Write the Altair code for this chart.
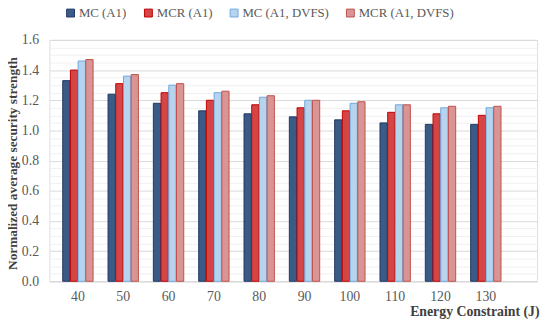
import altair as alt
import pandas as pd

categories = ["40", "50", "60", "70", "80", "90", "100", "110", "120", "130"]
series = ["MC (A1)", "MCR (A1)", "MC (A1, DVFS)", "MCR (A1, DVFS)"]
mc = [1.33, 1.24, 1.18, 1.13, 1.11, 1.09, 1.07, 1.05, 1.04, 1.04]
mcr = [1.40, 1.31, 1.25, 1.20, 1.17, 1.15, 1.13, 1.12, 1.11, 1.10]
mc_dvfs = [1.46, 1.36, 1.30, 1.25, 1.22, 1.20, 1.18, 1.17, 1.15, 1.15]
mcr_dvfs = [1.47, 1.37, 1.31, 1.26, 1.23, 1.20, 1.19, 1.17, 1.16, 1.16]
y_ticks = [0.0, 0.05, 0.1, 0.15, 0.2, 0.25, 0.3, 0.35, 0.4, 0.45, 0.5, 0.55, 0.6,
           0.65, 0.7, 0.75, 0.8, 0.85, 0.9, 0.95, 1.0, 1.05, 1.1, 1.15, 1.2, 1.25,
           1.3, 1.35, 1.4, 1.45, 1.5, 1.55, 1.6]

fills = ["#3B5B87", "#D44545", "#B7D4EE", "#D99494"]
strokes = ["#1F3864", "#C00000", "#6FA8DC", "#C0504D"]

rows = []
for s, vals in zip(series, [mc, mcr, mc_dvfs, mcr_dvfs]):
    for c, v in zip(categories, vals):
        rows.append({"energy": c, "series": s, "value": v})
df = pd.DataFrame(rows)

FONT = "Liberation Serif, Times New Roman, serif"
major = "round(datum.value*100) % 20 == 0"

chart = alt.Chart(df).mark_bar(strokeWidth=1).encode(
    x=alt.X("energy:N", sort=categories,
            scale=alt.Scale(paddingInner=0.33, paddingOuter=0.545, align=0.27),
            axis=alt.Axis(title="Energy Constraint (J)", labelAngle=0, ticks=False,
                          domainColor="#D9D9D9", labelColor="#595959", labelFontSize=14,
                          labelFont=FONT, titleFont=FONT,
                          labelPadding=8, titleAlign="right", titleX=497, titleY=24,
                          titleFontSize=14,
                          titleFontWeight="bold", titleColor="#404040",
                          grid=False)),
    xOffset=alt.XOffset("series:N", sort=series, scale=alt.Scale(paddingInner=0.06)),
    y=alt.Y("value:Q", scale=alt.Scale(domain=[0, 1.6], nice=False),
            axis=alt.Axis(title="Normalized average security strength", values=y_ticks,
                          labelExpr=major + " ? format(datum.value, '.1f') : ''",
                          gridColor={"condition": {"test": major, "value": "#D9D9D9"},
                                     "value": "#F0F0F0"},
                          labelFont=FONT, titleFont=FONT,
                          domain=False, ticks=False, labelColor="#595959",
                          labelFontSize=14, labelPadding=11, titleFontSize=13.5,
                          titleFontWeight="bold", titleColor="#404040",
                          titleX=-30, titleY=125)),
    color=alt.Color("series:N", sort=series,
                    scale=alt.Scale(domain=series, range=fills),
                    legend=alt.Legend(title=None, orient="none", legendX=15, legendY=-34,
                                      direction="horizontal", columns=4, symbolType="square",
                                      symbolSize=64, symbolStrokeWidth=1,
                                      labelFont=FONT,
                                      labelFontSize=13, labelColor="#595959",
                                      columnPadding=15, labelOffset=2)),
    stroke=alt.Stroke("series:N", sort=series,
                      scale=alt.Scale(domain=series, range=strokes), legend=None),
).properties(
    width=495, height=245,
    autosize=alt.AutoSizeParams(type="none"),
    padding={"left": 42, "top": 30, "right": 5, "bottom": 43},
).configure_view(stroke=None).configure(font=FONT)

chart.save("out.html", embed_options={"renderer": "svg", "actions": False})
